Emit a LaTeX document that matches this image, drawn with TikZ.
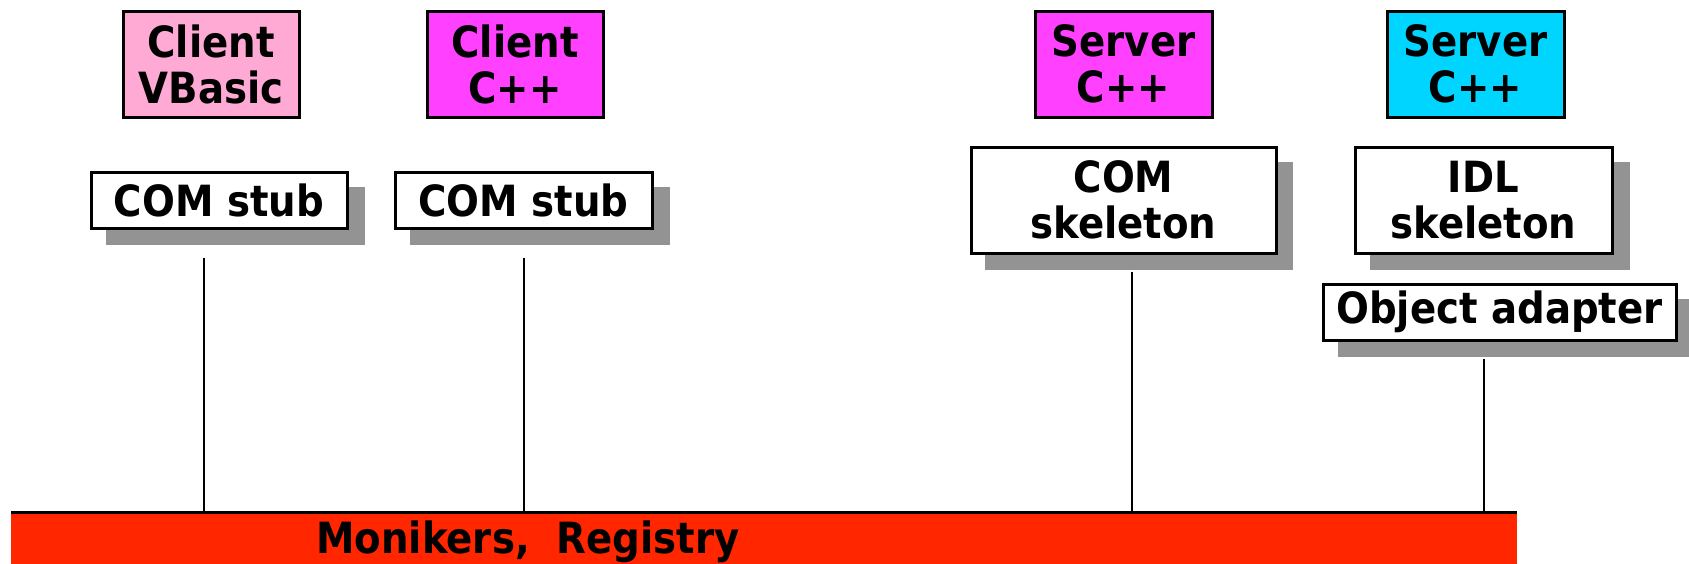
\documentclass[tikz,border=0pt]{standalone}
\usepackage{fontspec}
\setmainfont{DejaVu Sans Condensed}
\usetikzlibrary{calc}
\definecolor{pinkc}{HTML}{FFAAD5}
\definecolor{magc}{HTML}{FF40FF}
\definecolor{cyanc}{HTML}{00D5FF}
\definecolor{shadc}{HTML}{939393}
\definecolor{barc}{HTML}{FF2600}
\begin{document}
\begin{tikzpicture}[x=1pt,y=-1pt,
  lab/.style={font=\fontsize{43}{46}\selectfont\bfseries, align=center, inner sep=0pt},
  topbox/.style={lab, draw=black, line width=3pt, minimum height=106pt},
  wbox/.style={lab, draw=black, line width=3pt, fill=white, minimum height=#1},
  shad/.style={fill=shadc, draw=none},
  conn/.style={line width=2pt}]
\useasboundingbox (0,0) rectangle (1689,563);
% top boxes
\node[topbox, fill=pinkc, minimum width=176pt] (cvb) at (211,64) {Client\\VBasic};
\node[topbox, fill=magc, minimum width=176pt] (ccpp) at (515,64) {Client\\C++};
\node[topbox, fill=magc, minimum width=177pt] (scpp) at (1123.5,64) {Server\\C++};
\node[topbox, fill=cyanc, minimum width=177pt] (sidl) at (1475.5,64) {Server\\C++};
% shadows
\fill[shad] (106,187) rectangle (365,245);
\fill[shad] (410,187) rectangle (670,245);
\fill[shad] (985,162) rectangle (1293,270);
\fill[shad] (1370,162) rectangle (1630,270);
\fill[shad] (1338,299) rectangle (1700,357);
% white boxes
\node[wbox=56pt, minimum width=256pt] (stub1) at (219,200) {COM stub};
\node[wbox=56pt, minimum width=257pt] (stub2) at (523.5,200) {COM stub};
\node[wbox=106pt, minimum width=305pt] (comsk) at (1123.5,200) {COM\\skeleton};
\node[wbox=106pt, minimum width=257pt] (idlsk) at (1483.5,200) {IDL\\skeleton};
\node[wbox=56pt, minimum width=353pt] (oa) at (1499.5,312) {Object adapter};
% bar
\node[draw=none, fill=barc, minimum width=1506pt, minimum height=80pt, inner sep=0pt, anchor=north west] (bar) at (11,512) {};
\draw[line width=3pt] (bar.north west) -- (bar.north east);
\node[lab, anchor=base west] (mon) at (316,553) {Monikers,\ \ Registry};
% connectors
\coordinate (t1) at ([xshift=-15pt,yshift=-28pt]stub1.south);
\coordinate (t2) at ([yshift=-28pt]stub2.south);
\coordinate (t3) at ([xshift=8.5pt,yshift=-17pt]comsk.south);
\coordinate (t4) at ([xshift=-15.5pt,yshift=-17pt]oa.south);
\draw[conn] (t1) -- (t1 |- bar.north);
\draw[conn] (t2) -- (t2 |- bar.north);
\draw[conn] (t3) -- (t3 |- bar.north);
\draw[conn] (t4) -- (t4 |- bar.north);
\end{tikzpicture}
\end{document}
